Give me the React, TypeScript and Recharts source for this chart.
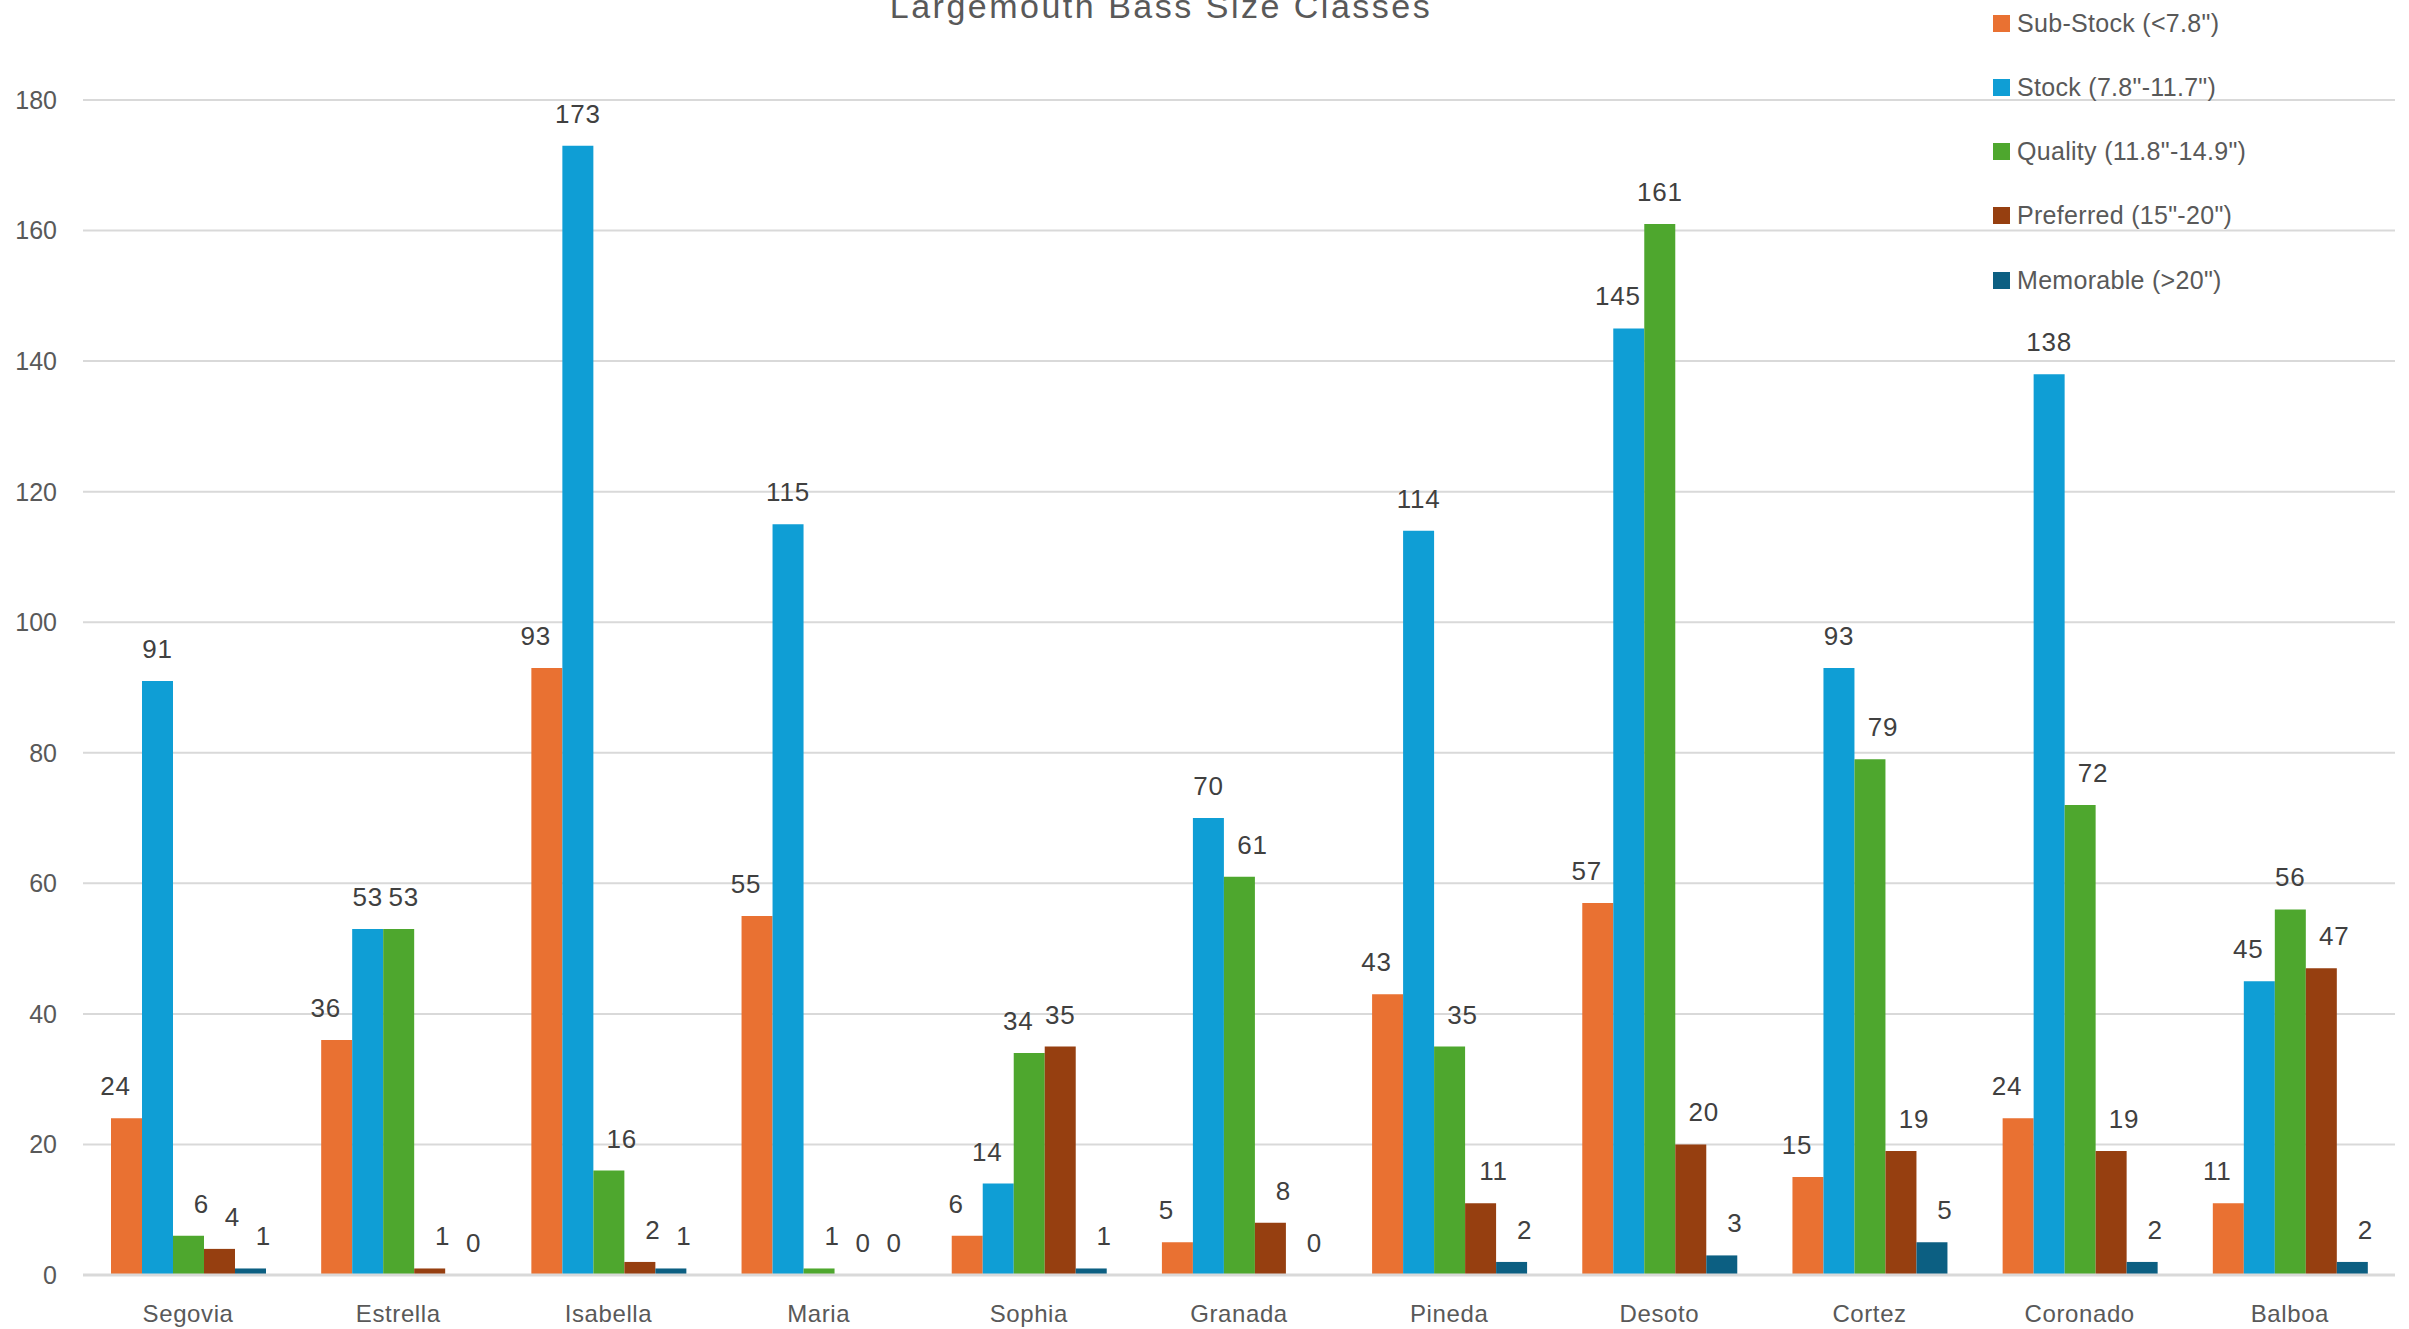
import { Bar, BarChart, CartesianGrid, LabelList, XAxis, YAxis } from "recharts";

const lakes = [
  "Segovia",
  "Estrella",
  "Isabella",
  "Maria",
  "Sophia",
  "Granada",
  "Pineda",
  "Desoto",
  "Cortez",
  "Coronado",
  "Balboa",
];

const subStock = [24, 36, 93, 55, 6, 5, 43, 57, 15, 24, 11];
const stock = [91, 53, 173, 115, 14, 70, 114, 145, 93, 138, 45];
const quality = [6, 53, 16, 1, 34, 61, 35, 161, 79, 72, 56];
const preferred = [4, 1, 2, 0, 35, 8, 11, 20, 19, 19, 47];
const memorable = [1, 0, 1, 0, 1, 0, 2, 3, 5, 2, 2];

const yTicks = [0, 20, 40, 60, 80, 100, 120, 140, 160, 180];

const series = [
  { key: "subStock", name: 'Sub-Stock (<7.8")', color: "#E97132" },
  { key: "stock", name: 'Stock (7.8"-11.7")', color: "#0F9ED5" },
  { key: "quality", name: 'Quality (11.8"-14.9")', color: "#4EA72E" },
  { key: "preferred", name: 'Preferred (15"-20")', color: "#963F10" },
  { key: "memorable", name: 'Memorable (>20")', color: "#0C5F82" },
];

const data = lakes.map((lake, i) => ({
  lake,
  subStock: subStock[i],
  stock: stock[i],
  quality: quality[i],
  preferred: preferred[i],
  memorable: memorable[i],
}));

const FONT = '"Liberation Sans", Arial, sans-serif';
const GREY = "#595959";

// rough Excel-like label nudging: move a label away from a taller neighbour bar,
// then push apart labels that would still collide
const BAR_W = 30.8;
const PX_PER_UNIT = 1175 / 180;
const seriesValues = [subStock, stock, quality, preferred, memorable];
const labelW = (v: number) => String(v).length * 15;

const labelShifts = seriesValues.map((vals, k) =>
  vals.map((v, i) => {
    const left = k > 0 ? seriesValues[k - 1][i] : -1;
    const right = k < seriesValues.length - 1 ? seriesValues[k + 1][i] : -1;
    if (right > v && left <= v) return -11;
    if (left > v && right <= v) return 13;
    return 0;
  })
);
lakes.forEach((_, i) => {
  for (let k = 1; k < seriesValues.length; k++) {
    const vPrev = seriesValues[k - 1][i];
    const v = seriesValues[k][i];
    if (Math.abs(v - vPrev) * PX_PER_UNIT > 22) continue;
    labelShifts[k][i] = Math.max(labelShifts[k][i], labelShifts[k - 1][i]);
    const prevX = (k - 1) * BAR_W + labelShifts[k - 1][i];
    const curX = k * BAR_W + labelShifts[k][i];
    const minDist = (labelW(vPrev) + labelW(v)) / 2 + 6;
    if (curX - prevX < minDist) labelShifts[k][i] = prevX + minDist - k * BAR_W;
  }
});

const makeLabel = (k: number) => (props: any) => {
  const { x, y, width, value, index } = props;
  const cx = Number(x) + Number(width) / 2 + labelShifts[k][index];
  return (
    <text
      x={cx}
      y={Number(y) - 23}
      textAnchor="middle"
      fill="#404040"
      fontSize={26}
      fontFamily={FONT}
      letterSpacing={0.8}
    >
      {value}
    </text>
  );
};

export default function App() {
  return (
    <div
      style={{
        position: "absolute",
        left: 0,
        top: 0,
        width: 2409,
        height: 1329,
        background: "#fff",
        fontFamily: FONT,
        overflow: "hidden",
      }}
    >
      <BarChart
        width={2409}
        height={1329}
        data={data}
        margin={{ top: 100, right: 14, bottom: 0, left: 0 }}
        barCategoryGap={28}
        barGap={0}
      >
        <CartesianGrid vertical={false} stroke="#d9d9d9" strokeWidth={2} />
        <XAxis
          dataKey="lake"
          interval={0}
          height={54}
          tickLine={false}
          tickMargin={24}
          axisLine={{ stroke: "#d9d9d9", strokeWidth: 3 }}
          tick={{ fill: GREY, fontSize: 24, fontFamily: FONT, letterSpacing: 0.6 }}
        />
        <YAxis
          width={83}
          domain={[0, 180]}
          ticks={yTicks}
          axisLine={false}
          tickLine={false}
          tickMargin={20}
          tick={{ fill: GREY, fontSize: 25, fontFamily: FONT }}
        />
        {series.map((s, k) => (
          <Bar
            key={s.key}
            dataKey={s.key}
            name={s.name}
            fill={s.color}
            minPointSize={0.01}
            isAnimationActive={false}
          >
            <LabelList dataKey={s.key} content={makeLabel(k)} />
          </Bar>
        ))}
      </BarChart>

      <div
        style={{
          position: "absolute",
          left: 0,
          width: 2322,
          top: -12,
          textAlign: "center",
          fontSize: 34,
          letterSpacing: 2.5,
          color: GREY,
          lineHeight: "36px",
          whiteSpace: "nowrap",
        }}
      >
        Largemouth Bass Size Classes
      </div>

      {series.map((s, i) => (
        <div
          key={s.key}
          style={{
            position: "absolute",
            left: 1993,
            top: 23 + i * 64.25 - 14,
            height: 28,
            display: "flex",
            alignItems: "center",
            fontSize: 25,
            letterSpacing: 0.3,
            color: GREY,
            whiteSpace: "nowrap",
          }}
        >
          <span
            style={{
              display: "inline-block",
              width: 17,
              height: 17,
              background: s.color,
              marginRight: 7,
            }}
          />
          {s.name}
        </div>
      ))}
    </div>
  );
}
